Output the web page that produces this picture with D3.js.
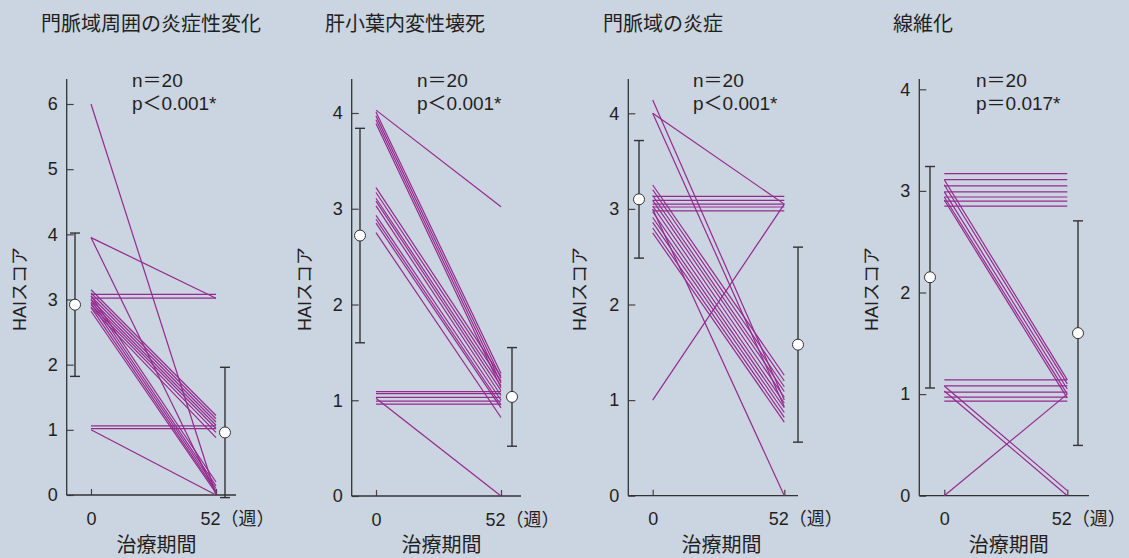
<!DOCTYPE html>
<html lang="ja">
  <head>
    <meta charset="utf-8">
    <title>HAI score</title>
  </head>
  <style>
    body { margin: 0; background: #cbd4e1; }
    svg text {
      font-family: "Liberation Sans", "Noto Sans CJK JP", sans-serif;
      fill: #231f20;
    }
    .tick line { stroke: #444; stroke-width: 1.2; }
  </style>
  <body>
    <div id="svg-area"></div>
    <script src="https://cdn.jsdelivr.net/npm/d3@7"></script>
    <script>
      const svg_width = 1129;
      const svg_height = 558;

      // panel titles and stats
      const titles = ['門脈域周囲の炎症性変化', '肝小葉内変性壊死', '門脈域の炎症', '線維化'];
      const nLabels = ['n＝20', 'n＝20', 'n＝20', 'n＝20'];
      const pLabels = ['p＜0.001*', 'p＜0.001*', 'p＜0.001*', 'p＝0.017*'];
      const yMax = [6, 4, 4, 4];
      const xTicks = [0, 52];
      const weekUnit = '（週）';

      // individual patients: score at week 0 and week 52
      const p1Start = [6.0, 3.95, 3.95, 3.08, 3.02, 1.06, 1.02, 1.0,
        3.15, 3.1, 3.05, 3.0, 2.96, 2.92, 2.88,
        3.06, 3.0, 2.94, 2.88, 2.82];
      const p1End = [0.0, 0.02, 3.02, 3.08, 3.02, 1.06, 1.02, 0.0,
        1.22, 1.17, 1.12, 1.07, 1.02, 0.96, 0.88,
        0.2, 0.14, 0.1, 0.06, 0.03];

      const p2Start = [4.03, 4.01, 3.97, 3.93, 3.89,
        3.22, 3.17, 3.11, 3.08, 3.03, 2.93, 2.89, 2.85, 2.75,
        1.09, 1.07, 1.03, 0.99, 0.96, 1.02];
      const p2End = [3.02, 1.28, 1.23, 1.18, 1.13,
        1.25, 1.2, 1.15, 1.1, 1.05, 1.0, 0.95, 0.92, 0.82,
        1.09, 1.07, 1.03, 0.99, 0.96, 0.0];

      const p3Start = [4.14, 4.0, 4.0, 1.0,
        3.13, 3.09, 3.05, 3.02, 2.98, 3.0,
        3.25, 3.2, 3.14, 3.09, 3.03, 2.97, 2.91, 2.86, 2.8, 2.75];
      const p3End = [1.0, 0.93, 3.05, 3.05,
        3.13, 3.09, 3.05, 3.02, 2.98, 0.0,
        1.26, 1.2, 1.14, 1.09, 1.03, 0.97, 0.92, 0.87, 0.82, 0.77];

      const p4Start = [3.17, 3.11, 3.05, 2.99, 2.94, 2.9, 2.85,
        3.11, 3.06, 2.99, 2.94, 2.91,
        1.14, 1.08, 1.02, 0.97, 0.93,
        1.08, 1.03, 0.0];
      const p4End = [3.17, 3.11, 3.05, 2.99, 2.94, 2.9, 2.85,
        1.14, 1.1, 1.05, 1.0, 0.96,
        1.14, 1.08, 1.02, 0.97, 0.93,
        0.05, 0.0, 1.0];

      const starts = [p1Start, p2Start, p3Start, p4Start];
      const ends = [p1End, p2End, p3End, p4End];

      // group mean and SD
      const mean0 = [2.92, 2.72, 3.1, 2.15];
      const sd0 = [1.1, 1.12, 0.615, 1.09];
      const mean52 = [0.96, 1.035, 1.58, 1.6];
      const sd52 = [1.0, 0.515, 1.02, 1.105];

      // layout of each panel (pixels)
      const layout = [
        {axisX: 66.7, x0: 91, x52: 216, xEnd: 236, y0: 495, yTop: 104, titleX: 41, statX: 132, labelX: 20, m0X: 75, m52X: 225},
        {axisX: 351.7, x0: 376, x52: 501, xEnd: 521, y0: 496, yTop: 113, titleX: 325, statX: 417, labelX: 305, m0X: 360, m52X: 512},
        {axisX: 628.3, x0: 652.7, x52: 784.3, xEnd: 798, y0: 495.7, yTop: 113.3, titleX: 603, statX: 693, labelX: 580, m0X: 639, m52X: 798},
        {axisX: 919.3, x0: 944.3, x52: 1067.3, xEnd: 1089, y0: 495.7, yTop: 89.3, titleX: 893, statX: 976, labelX: 872, m0X: 930, m52X: 1078}
      ];
      const axisTop = 79;
      const lineColor = '#952a8e';
      const axisColor = '#333';

      const svg = d3.select('#svg-area')
        .append('svg')
        .attr('width', svg_width)
        .attr('height', svg_height);

      svg.append('rect')
        .attr('width', svg_width)
        .attr('height', svg_height)
        .attr('fill', '#cbd4e1');

      layout.forEach((L, i) => {
        const g = svg.append('g');

        const x_scale = d3.scaleLinear()
          .domain([0, 52])
          .range([L.x0, L.x52]);
        const y_scale = d3.scaleLinear()
          .domain([0, yMax[i]])
          .range([L.y0, L.yTop]);

        //title + stats
        g.append('text')
          .attr('x', L.titleX)
          .attr('y', 31)
          .attr('font-size', '20px')
          .text(titles[i]);
        g.append('text')
          .attr('x', L.statX)
          .attr('y', 87)
          .attr('font-size', '19px')
          .text(nLabels[i]);
        g.append('text')
          .attr('x', L.statX)
          .attr('y', 110)
          .attr('font-size', '19px')
          .text(pLabels[i]);

        //y axis ticks (pointing inward)
        const y_axis = d3.axisLeft(y_scale)
          .ticks(yMax[i])
          .tickFormat(d3.format('d'))
          .tickSize(-7)
          .tickPadding(9);
        const yg = g.append('g')
          .attr('transform', `translate(${L.axisX},0)`)
          .call(y_axis);
        yg.select('.domain').remove();
        yg.selectAll('text').attr('font-size', '18px').attr('fill', '#231f20');

        //x axis ticks (pointing up), last tick carries the unit
        const x_axis = d3.axisBottom(x_scale)
          .tickValues(xTicks)
          .tickFormat(d => d === 52 ? d + weekUnit : d)
          .tickSize(-6)
          .tickPadding(17);
        const xg = g.append('g')
          .attr('transform', `translate(0,${L.y0})`)
          .call(x_axis);
        xg.select('.domain').remove();
        xg.selectAll('text')
          .attr('font-size', '18px')
          .attr('fill', '#231f20');
        xg.selectAll('.tick text')
          .filter(d => d === 52)
          .attr('text-anchor', 'start')
          .attr('x', -16);

        //axis lines
        g.append('line')
          .attr('x1', L.axisX).attr('x2', L.axisX)
          .attr('y1', axisTop).attr('y2', L.y0)
          .attr('stroke', axisColor).attr('stroke-width', 1.3);
        g.append('line')
          .attr('x1', L.axisX).attr('x2', L.xEnd)
          .attr('y1', L.y0).attr('y2', L.y0)
          .attr('stroke', axisColor).attr('stroke-width', 1.3);

        //axis titles
        g.append('text')
          .attr('x', (L.x0 + L.x52) / 2 + 3)
          .attr('y', 552)
          .attr('text-anchor', 'middle')
          .attr('font-size', '20px')
          .text('治療期間');
        g.append('text')
          .attr('transform', `translate(${L.labelX + 6},289) rotate(-90)`)
          .attr('text-anchor', 'middle')
          .attr('font-size', '18px')
          .text('HAIスコア');

        //patient lines
        const pairs = starts[i].map((s, k) => [s, ends[i][k]]);
        g.selectAll('line.patient')
          .data(pairs)
          .enter()
          .append('line')
          .attr('class', 'patient')
          .attr('x1', x_scale(0))
          .attr('x2', x_scale(52))
          .attr('y1', d => y_scale(d[0]))
          .attr('y2', d => y_scale(d[1]))
          .attr('stroke', lineColor)
          .attr('stroke-width', 1.2);

        //mean +- SD
        const stats = [
          {x: L.m0X, m: mean0[i], s: sd0[i]},
          {x: L.m52X, m: mean52[i], s: sd52[i]}
        ];
        stats.forEach(st => {
          const lo = y_scale(st.m - st.s);
          const hi = y_scale(st.m + st.s);
          g.append('line')
            .attr('x1', st.x).attr('x2', st.x)
            .attr('y1', lo).attr('y2', hi)
            .attr('stroke', axisColor).attr('stroke-width', 1.4);
          [lo, hi].forEach(yy => {
            g.append('line')
              .attr('x1', st.x - 5).attr('x2', st.x + 5)
              .attr('y1', yy).attr('y2', yy)
              .attr('stroke', axisColor).attr('stroke-width', 1.4);
          });
          g.append('circle')
            .attr('cx', st.x)
            .attr('cy', y_scale(st.m))
            .attr('r', 5.5)
            .attr('fill', '#fff')
            .attr('stroke', axisColor)
            .attr('stroke-width', 1);
        });
      });
    </script>
  </body>
</html>
